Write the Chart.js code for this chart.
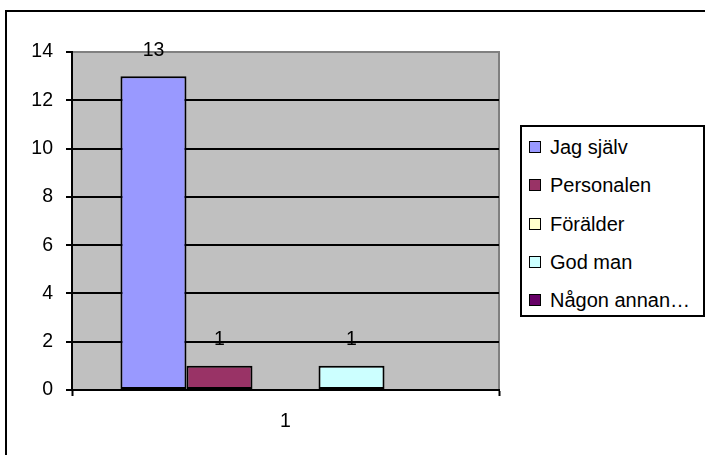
<!DOCTYPE html>
<html>
<head>
<meta charset="utf-8">
<script src="https://cdn.jsdelivr.net/npm/chart.js@4/dist/chart.umd.min.js"></script>
<style>
  html, body { margin: 0; padding: 0; background: #fff; overflow: hidden; }
  #wrap { position: relative; width: 705px; height: 455px; }
  #frame { position: absolute; left: 5px; top: 10px; width: 760px; height: 500px;
           border-top: 2px solid #000; border-left: 2px solid #000; }
  canvas { position: absolute; left: 0; top: 0; }
  #legend { position: absolute; left: 520px; top: 125px; width: 181px; height: 188px;
            border: 2px solid #000; background: #fff; font-family: "Liberation Sans", Arial, sans-serif;
            font-size: 20px; color: #000; }
  #legend div { position: absolute; left: 7px; height: 24px; line-height: 24px; white-space: nowrap; }
  #legend span.sw { display: inline-block; width: 10px; height: 10px; border: 1.5px solid #000;
                    margin-right: 9px; vertical-align: 1px; }
</style>
</head>
<body>
<div id="wrap">
  <div id="frame"></div>
  <canvas id="c" width="705" height="455"></canvas>
  <div id="legend"></div>
</div>
<script>
// data
var categories = ["1"];
var seriesNames = ["Jag själv", "Personalen", "Förälder", "God man", "Någon annan…"];
var seriesValues = [13, 1, null, 1, null];
var seriesColors = ["#9999FF", "#993366", "#FFFFCC", "#CCFFFF", "#660066"];
var yTicks = [0, 2, 4, 6, 8, 10, 12, 14];

var FONT = '"Liberation Sans", Arial, sans-serif';

var datasets = seriesNames.map(function (name, i) {
  return {
    label: name,
    data: [seriesValues[i]],
    backgroundColor: seriesColors[i],
    borderColor: "#000",
    borderWidth: 2,
    borderSkipped: false,
    categoryPercentage: 0.773,
    barPercentage: 1
  };
});

// grey plot area with grey top/right frame
var plotBg = {
  id: "plotBg",
  beforeDraw: function (chart) {
    var a = chart.chartArea, ctx = chart.ctx;
    ctx.save();
    ctx.fillStyle = "#C0C0C0";
    ctx.fillRect(a.left, a.top, a.right - a.left, a.bottom - a.top);
    ctx.strokeStyle = "#808080";
    ctx.lineWidth = 2;
    ctx.beginPath();
    ctx.moveTo(a.left, a.top);
    ctx.lineTo(a.right, a.top);
    ctx.lineTo(a.right, a.bottom);
    ctx.stroke();
    ctx.restore();
  }
};

// value labels above the bars
var valueLabels = {
  id: "valueLabels",
  afterDatasetsDraw: function (chart) {
    var ctx = chart.ctx;
    ctx.save();
    ctx.font = "19.5px " + FONT;
    ctx.fillStyle = "#000";
    ctx.textAlign = "center";
    ctx.textBaseline = "middle";
    chart.data.datasets.forEach(function (ds, i) {
      chart.getDatasetMeta(i).data.forEach(function (bar, j) {
        var v = ds.data[j];
        if (v === null || v === undefined) return;
        ctx.fillText(String(v), bar.x, bar.y - 26);
      });
    });
    ctx.restore();
  }
};

var chart = new Chart(document.getElementById("c"), {
  type: "bar",
  data: { labels: categories, datasets: datasets },
  options: {
    responsive: false,
    animation: false,
    devicePixelRatio: 1,
    layout: { padding: { top: 52, right: 206, left: 0, bottom: 0 } },
    plugins: {
      legend: { display: false },
      tooltip: { enabled: false }
    },
    scales: {
      x: {
        afterFit: function (s) { s.height = 65; },
        grid: { drawOnChartArea: false, tickLength: 6, tickColor: "#000", tickWidth: 2, offset: true },
        border: { color: "#000", width: 2 },
        ticks: { font: { family: FONT, size: 19.5 }, color: "#000", padding: 14 }
      },
      y: {
        min: 0,
        max: 14,
        afterFit: function (s) { s.width = 72; },
        afterBuildTicks: function (s) { s.ticks = yTicks.map(function (v) { return { value: v }; }); },
        grid: {
          color: function (ctx) { return ctx.tick && ctx.tick.value === 14 ? "#808080" : "#000"; },
          lineWidth: 2,
          tickLength: 6,
          tickColor: "#000",
          tickWidth: 2
        },
        border: { color: "#000", width: 2 },
        ticks: { font: { family: FONT, size: 19.5 }, color: "#000", padding: 13 }
      }
    }
  },
  plugins: [plotBg, valueLabels]
});

// legend box built from the chart's datasets
var legendEl = document.getElementById("legend");
chart.data.datasets.forEach(function (ds, i) {
  var row = document.createElement("div");
  row.style.top = (8 + i * 38.3) + "px";
  var sw = document.createElement("span");
  sw.className = "sw";
  sw.style.background = ds.backgroundColor;
  row.appendChild(sw);
  row.appendChild(document.createTextNode(ds.label));
  legendEl.appendChild(row);
});
</script>
</body>
</html>
